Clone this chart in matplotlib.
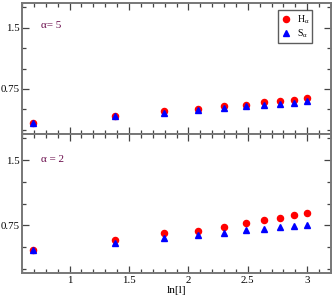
import numpy as np
import matplotlib.pyplot as plt
from matplotlib.ticker import MultipleLocator

plt.rcParams['font.family'] = ['Liberation Serif', 'DejaVu Serif']
plt.rcParams['mathtext.fontset'] = 'custom'
plt.rcParams['mathtext.rm'] = 'Liberation Serif'

# system sizes l and their log
l_vals = [2, 4, 6, 8, 10, 12, 14, 16, 18, 20]
ln_l = np.log(l_vals)

# alpha = 5 (top panel)
h_a5 = [0.336, 0.425, 0.48, 0.50, 0.537, 0.56, 0.585, 0.605, 0.62, 0.637]
s_a5 = [0.336, 0.416, 0.46, 0.49, 0.516, 0.537, 0.557, 0.57, 0.58, 0.597]

# alpha = 2 (bottom panel)
h_a2 = [0.463, 0.58, 0.658, 0.685, 0.73, 0.776, 0.807, 0.837, 0.865, 0.888]
s_a2 = [0.46, 0.55, 0.604, 0.638, 0.665, 0.692, 0.71, 0.727, 0.742, 0.757]

panel_labels = ['α= 5', 'α = 2']
label_color = (103/255, 7/255, 72/255)
spine_color = '#777777'

fig = plt.figure(figsize=(3.32, 3.00), dpi=100)
W, H = 332, 300
ax_top = fig.add_axes([22/W, 1 - 134/H, 309/W, 131/H])
ax_bot = fig.add_axes([22/W, 27/H, 309/W, 139/H])

for ax, h, s, lab in [(ax_top, h_a5, s_a5, panel_labels[0]),
                      (ax_bot, h_a2, s_a2, panel_labels[1])]:
    ax.plot(ln_l, h, 'o', color='#ff0000', markersize=4.4, label=r'H$_\mathrm{α}$')
    ax.plot(ln_l, s, '^', color='#0000ff', markersize=4.4, label=r'S$_\mathrm{α}$')
    ax.set_xlim(0.6, 3.2)
    ax.set_ylim(0.2, 1.8)
    ax.xaxis.set_major_locator(MultipleLocator(0.5))
    ax.xaxis.set_minor_locator(MultipleLocator(0.1))
    ax.yaxis.set_major_locator(MultipleLocator(0.75))
    ax.yaxis.set_minor_locator(MultipleLocator(0.25))
    ax.tick_params(which='both', direction='in', top=True, right=True,
                   color='#444444', labelsize=7.8, pad=2, width=0.9)
    ax.tick_params(which='major', length=5)
    ax.tick_params(which='minor', length=3)
    for sp in ax.spines.values():
        sp.set_color(spine_color)
        sp.set_linewidth(1.4)
    ax.set_yticks([0.75, 1.5])
    ax.set_yticklabels(['0.75', '1.5'])
    ax.text(0.06, 0.83 if ax is ax_top else 0.82, lab, transform=ax.transAxes,
            color=label_color, fontsize=8, va='center')

ax_top.tick_params(labelbottom=False)
ax_bot.set_xticks([1, 1.5, 2, 2.5, 3])
ax_bot.set_xticklabels(['1', '1.5', '2', '2.5', '3'])
ax_bot.set_xlabel('ln[l]', fontsize=8, labelpad=1)

leg = ax_top.legend(loc='upper right', bbox_to_anchor=(290/309, 1 - 7/131),
                    fontsize=7, frameon=True, fancybox=False, handlelength=1.0,
                    handletextpad=0.6, borderpad=0.3, labelspacing=0.15,
                    borderaxespad=0)
leg.get_frame().set_edgecolor('#333333')
leg.get_frame().set_linewidth(1.0)

fig.savefig('out.png', dpi=100)
